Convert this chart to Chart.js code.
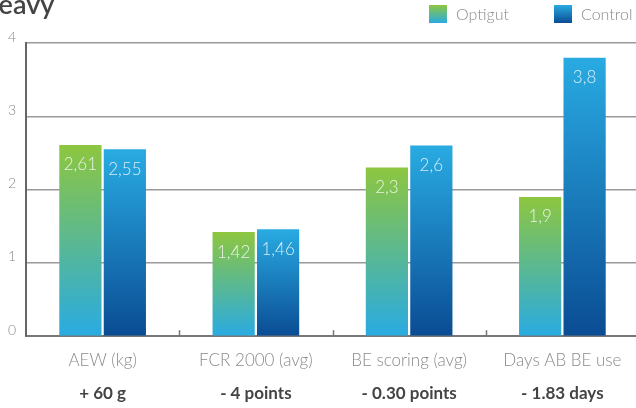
<!DOCTYPE html>
<html>
<head>
<meta charset="utf-8">
<script src="https://cdn.jsdelivr.net/npm/chart.js@4/dist/chart.umd.min.js"></script>
<style>
  html, body { margin: 0; padding: 0; background: #fff; overflow: hidden; }
  #wrap { width: 639px; height: 403px; position: relative; }
</style>
</head>
<body>
<div id="wrap"><canvas id="chart"></canvas></div>
<script>
// values
const categories = ['AEW (kg)', 'FCR 2000 (avg)', 'BE scoring (avg)', 'Days AB BE use'];
const differences = ['+ 60 g', '- 4 points', '- 0.30 points', '- 1.83 days'];
const optigutValues = [2.61, 1.42, 2.3, 1.9];
const controlValues = [2.55, 1.46, 2.6, 3.8];
const yTicks = [0, 1, 2, 3, 4];

const FONT = 'Lato, "Open Sans", sans-serif';
const optigutStops = ['#8dc63f', '#29abe2'];
const controlStops = ['#29abe2', '#0a4c94'];

// gradient running from the top of each bar down to its base
function barFill(stops) {
    return c => {
        const chart = c.chart;
        if (!chart.chartArea || c.raw == null) return stops[1];
        const y = chart.scales.y;
        const g = chart.ctx.createLinearGradient(0, y.getPixelForValue(c.raw), 0, y.getPixelForValue(0));
        g.addColorStop(0, stops[0]);
        g.addColorStop(1, stops[1]);
        return g;
    };
}

const extras = {
    id: 'extras',
    afterDatasetsDraw(chart) {
        const ctx = chart.ctx;
        // value labels inside the bars
        ctx.save();
        ctx.font = '300 17px ' + FONT;
        ctx.fillStyle = 'rgba(255,255,255,0.82)';
        ctx.textAlign = 'center';
        ctx.textBaseline = 'middle';
        chart.data.datasets.forEach((ds, i) => {
            chart.getDatasetMeta(i).data.forEach((bar, j) => {
                ctx.fillText(String(ds.data[j]).replace('.', ','), bar.x, bar.y + 20);
            });
        });
        // small upward tick marks between categories
        const x = chart.scales.x;
        const area = chart.chartArea;
        const step = x.getPixelForValue(1) - x.getPixelForValue(0);
        ctx.strokeStyle = '#777';
        ctx.lineWidth = 1.5;
        for (let k = 1; k <= categories.length; k++) {
            const px = Math.round(x.getPixelForValue(k) - step / 2) + 0.5;
            ctx.beginPath();
            ctx.moveTo(px, area.bottom);
            ctx.lineTo(px, area.bottom - 6);
            ctx.stroke();
        }
        ctx.restore();
    },
    afterDraw(chart) {
        const ctx = chart.ctx;
        ctx.save();
        // title, partly cut off at the left edge
        ctx.font = '600 27px ' + FONT;
        ctx.fillStyle = '#444';
        ctx.textBaseline = 'alphabetic';
        ctx.fillText('Heavy', -ctx.measureText('H').width - 1, 14);
        // legend
        const items = [
            { text: 'Optigut', x: 429, stops: optigutStops },
            { text: 'Control', x: 554, stops: controlStops }
        ];
        ctx.font = '300 16px ' + FONT;
        ctx.textBaseline = 'middle';
        items.forEach(it => {
            const g = ctx.createLinearGradient(0, 5, 0, 23);
            g.addColorStop(0, it.stops[0]);
            g.addColorStop(1, it.stops[1]);
            ctx.fillStyle = g;
            ctx.fillRect(it.x, 5, 18, 18);
            ctx.fillStyle = '#8a8a8a';
            ctx.fillText(it.text, it.x + 27, 15);
        });
        ctx.restore();
    }
};

new Chart(document.getElementById('chart'), {
    type: 'bar',
    data: {
        labels: categories,
        datasets: [
            { label: 'Optigut', data: optigutValues, backgroundColor: barFill(optigutStops) },
            { label: 'Control', data: controlValues, backgroundColor: barFill(controlStops) }
        ]
    },
    options: {
        responsive: true,
        maintainAspectRatio: false,
        animation: false,
        categoryPercentage: 0.58,
        barPercentage: 0.95,
        layout: { padding: { top: 43, left: 0, right: 0, bottom: 0 } },
        plugins: {
            legend: { display: false },
            tooltip: { enabled: false }
        },
        scales: {
            x: {
                position: 'bottom',
                grid: { display: false, drawTicks: false },
                border: { display: true, color: '#777', width: 2 },
                ticks: { color: '#8a8a8a', font: { family: FONT, size: 17, weight: '300' }, padding: 14, maxRotation: 0 }
            },
            x2: {
                type: 'category',
                labels: differences,
                position: 'bottom',
                grid: { display: false, drawTicks: false },
                border: { display: false },
                ticks: { color: '#444', font: { family: FONT, size: 17, weight: 'bold' }, padding: -1, maxRotation: 0 }
            },
            y: {
                min: 0,
                max: 4,
                afterFit: s => { s.width = 26; },
                afterBuildTicks: s => { s.ticks = yTicks.map(v => ({ value: v })); },
                grid: { color: '#9a9a9a', lineWidth: 1.5, drawTicks: false },
                border: { display: true, color: '#666', width: 2 },
                ticks: { color: '#8a8a8a', font: { family: FONT, size: 14, weight: '300' }, padding: 10, labelOffset: -6 }
            }
        }
    },
    plugins: [extras]
});
</script>
</body>
</html>
